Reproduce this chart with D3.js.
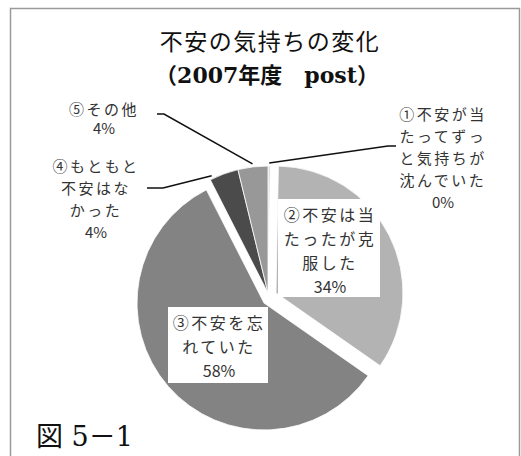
<!DOCTYPE html>
<html>
<head>
<meta charset="utf-8">
<script src="https://cdn.jsdelivr.net/npm/d3@7"></script>
<style>
	body { margin: 0; background: #fff; }
	svg { display: block; }
</style>
</head>
<body>
<svg width="521" height="456"></svg>
<script>
// categories and values (percent)
const categories = ["①不安が当たってずっと気持ちが沈んでいた", "②不安は当たったが克服した", "③不安を忘れていた", "④もともと不安はなかった", "⑤その他"];
const labelLines = [
	["①不安が当", "たってずっ", "と気持ちが", "沈んでいた"],
	["②不安は当", "たったが克", "服した"],
	["③不安を忘", "れていた"],
	["④もともと", "不安はな", "かった"],
	["⑤その他"]
];
const values = [0.3, 34.4, 57.8, 3.7, 3.8];
const titleLines = ["不安の気持ちの変化", "（2007年度　post）"];
const figCaption = "図 5－1";

// styles
const colors = ["#d9d9d9", "#b3b3b3", "#838383", "#4b4b4b", "#989898"];
const explode = [[0, 0], [8, 0], [-4, 10], [0, 0], [0, 0]];

const svg = d3.select("svg");
const cx = 268, cy = 293, radius = 127;

// frame
svg.append("path")
	.attr("d", "M10.5,456 V8.5 H519.5 V456")
	.attr("fill", "none")
	.attr("stroke", "#9a9a9a")
	.attr("stroke-width", 1.5);

// title
const title = svg.append("text")
	.attr("text-anchor", "middle")
	.attr("font-family", "'DejaVu Serif', 'Noto Sans CJK JP', serif")
	.attr("fill", "#111");
title.append("tspan").attr("x", 270).attr("y", 50).attr("font-size", 23)
	.attr("letter-spacing", 1.5).text(titleLines[0]);
title.append("tspan").attr("x", 267).attr("y", 83).attr("font-size", 22)
	.attr("font-weight", "bold").text(titleLines[1]);

const pie = d3.pie().sort(null).value(d => d);
const arcs = pie(values);
const arc = d3.arc().innerRadius(0).outerRadius(radius);

const g = svg.append("g").attr("transform", `translate(${cx},${cy})`);

g.selectAll("path.slice")
	.data(arcs)
	.enter().append("path")
	.attr("class", "slice")
	.attr("transform", (d, i) => `translate(${explode[i][0]},${explode[i][1]})`)
	.attr("d", arc)
	.attr("fill", (d, i) => colors[i])
	.attr("stroke", "#fff")
	.attr("stroke-width", 0.8);

// point on a slice's outer edge, t = fraction across the slice
function edgePoint(i, t, extra) {
	const d = arcs[i];
	const a = d.startAngle + (d.endAngle - d.startAngle) * t;
	const r = radius + extra;
	return [cx + explode[i][0] + r * Math.sin(a), cy + explode[i][1] - r * Math.cos(a)];
}

const pct = v => Math.round(v) + "%";

// outside labels with leader lines
const outside = [
	{ i: 0, x: 443, y: 120, lh: 22, elbow: [[396, 146], [388, 146]], t: 0.5 },
	{ i: 3, x: 96, y: 172, lh: 22, elbow: [[147, 188], [163, 188]], t: 0.1 },
	{ i: 4, x: 104, y: 115, lh: 19, elbow: [[157, 114], [164, 114]], t: 0.5 }
];

const line = d3.line();
outside.forEach(o => {
	const pts = o.elbow.concat([edgePoint(o.i, o.t, 3)]);
	svg.append("path")
		.attr("d", line(pts))
		.attr("fill", "none")
		.attr("stroke", "#111")
		.attr("stroke-width", 1.6);

	const txt = svg.append("text")
		.attr("text-anchor", "middle")
		.attr("font-family", "'Noto Sans CJK JP', sans-serif")
		.attr("font-size", 15)
		.attr("letter-spacing", 2.5)
		.attr("fill", "#333");
	const lines = labelLines[o.i].concat([pct(values[o.i])]);
	lines.forEach((s, k) => {
		txt.append("tspan").attr("x", o.x).attr("y", o.y + k * o.lh)
			.attr("letter-spacing", k === lines.length - 1 ? 0 : null)
			.text(s);
	});
});

// boxed labels inside slices
const boxed = [
	{ i: 1, box: [278, 199, 102, 98], x: 330, y: 221, lh: 24 },
	{ i: 2, box: [168, 307, 100, 76], x: 219, y: 329, lh: 24 }
];
boxed.forEach(o => {
	svg.append("rect")
		.attr("x", o.box[0]).attr("y", o.box[1])
		.attr("width", o.box[2]).attr("height", o.box[3])
		.attr("fill", "#fff");
	const txt = svg.append("text")
		.attr("text-anchor", "middle")
		.attr("font-family", "'Noto Sans CJK JP', sans-serif")
		.attr("font-size", 16)
		.attr("letter-spacing", 2.5)
		.attr("fill", "#333");
	const lines = labelLines[o.i].concat([pct(values[o.i])]);
	lines.forEach((s, k) => {
		txt.append("tspan").attr("x", o.x).attr("y", o.y + k * o.lh)
			.attr("letter-spacing", k === lines.length - 1 ? 0 : null)
			.text(s);
	});
});

// caption
svg.append("text")
	.attr("x", 36).attr("y", 446)
	.attr("font-family", "'DejaVu Serif', 'Noto Sans CJK JP', serif")
	.attr("font-size", 27)
	.attr("fill", "#111")
	.text(figCaption);
</script>
</body>
</html>
